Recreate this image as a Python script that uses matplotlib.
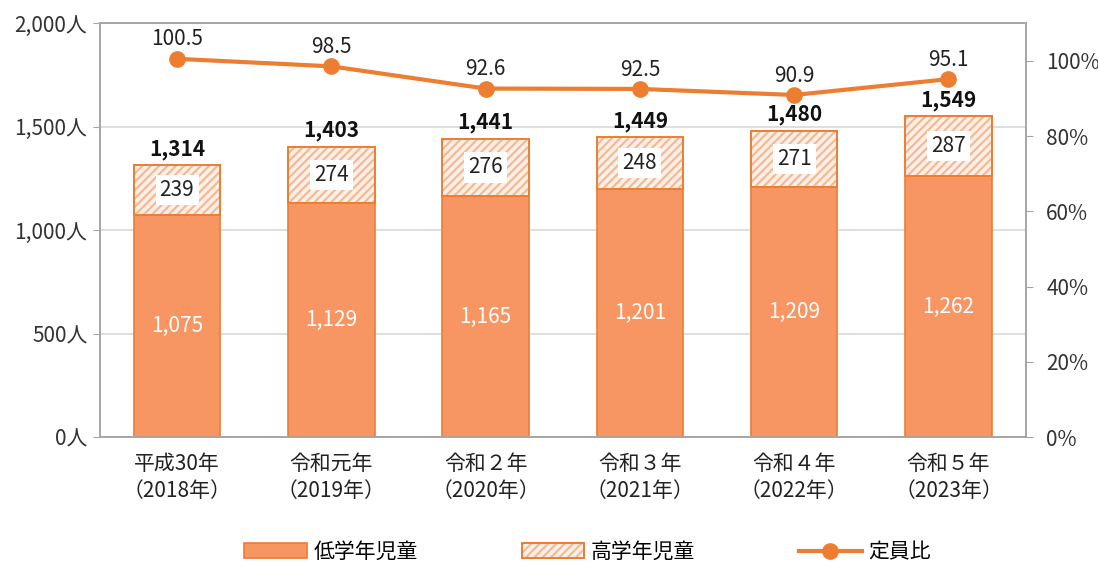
import matplotlib
matplotlib.use("Agg")
import matplotlib.pyplot as plt
from matplotlib.patches import Patch
import numpy as np

plt.rcParams['font.family'] = ['Noto Sans CJK JP', 'DejaVu Sans']
plt.rcParams['hatch.linewidth'] = 1.6

years = ['平成30年\n（2018年）', '令和元年\n（2019年）', '令和２年\n（2020年）',
         '令和３年\n（2021年）', '令和４年\n（2022年）', '令和５年\n（2023年）']
lower = [1075, 1129, 1165, 1201, 1209, 1262]
upper = [239, 274, 276, 248, 271, 287]
ratio = [100.5, 98.5, 92.6, 92.5, 90.9, 95.1]

orange = '#ED7D31'
fill = '#F79663'
hatch_col = '#F5BA95'
grey = '#A6A6A6'

fig = plt.figure(figsize=(10.98, 5.62), dpi=100)
ax = fig.add_axes([0.091, 0.222, 0.843, 0.737])
ax2 = ax.twinx()

x = np.arange(len(years))
w = 0.56
totals = [a + b for a, b in zip(lower, upper)]

b1 = ax.bar(x, lower, w, color=fill, edgecolor=orange, linewidth=1.2, zorder=3)
# hatch takes the edge colour, so hatch layer first, then outline on top
ax.bar(x, upper, w, bottom=lower, color='#FDF0E8', edgecolor=hatch_col, linewidth=0,
       hatch='////', zorder=3)
ax.bar(x, upper, w, bottom=lower, fill=False, edgecolor=orange, linewidth=1.4, zorder=3.5)
b2 = (Patch(facecolor='#FDF0E8', edgecolor=hatch_col, hatch='////', linewidth=0),
      Patch(fill=False, edgecolor=orange, linewidth=1.4))

for i in range(len(x)):
    ax.text(x[i], lower[i] / 2, f'{lower[i]:,}', ha='center', va='center',
            color='white', fontsize=15, zorder=5)
    ax.text(x[i], lower[i] + upper[i] / 2, f'{upper[i]}', ha='center', va='center',
            color='#222222', fontsize=15, zorder=5,
            bbox=dict(boxstyle='square,pad=0.2', fc='white', ec='none'))
    ax.annotate(f'{totals[i]:,}', (x[i], totals[i]), xytext=(0, 4),
                textcoords='offset points', ha='center', va='bottom',
                fontsize=15, fontweight='bold', color='#111111', zorder=5)

ax.set_ylim(0, 2000)
ax.set_xlim(-0.5, len(x) - 0.5)
ax.set_yticks([0, 500, 1000, 1500, 2000])
ax.set_yticklabels(['0人', '500人', '1,000人', '1,500人', '2,000人'], fontsize=15, color='#333333')
ax.set_xticks(x)
ax.set_xticklabels(years, fontsize=15, color='#222222', linespacing=1.35)
ax.tick_params(axis='x', length=0, pad=11)
ax.tick_params(axis='y', length=5, color=grey, pad=4)
ax.yaxis.grid(True, color='#D9D9D9', linewidth=1.2, zorder=0)
ax.set_axisbelow(True)

ln, = ax2.plot(x, ratio, color=orange, linewidth=3, marker='o', markersize=11,
               zorder=6)
for i in range(len(x)):
    ax2.annotate(f'{ratio[i]}', (x[i], ratio[i]), xytext=(0, 6),
                 textcoords='offset points', ha='center', va='bottom',
                 fontsize=15, color='#222222')
ax2.set_ylim(0, 110)
ax2.set_yticks([0, 20, 40, 60, 80, 100])
ax2.set_yticklabels(['0%', '20%', '40%', '60%', '80%', '100%'], fontsize=15, color='#333333')
ax2.tick_params(axis='y', length=5, color=grey, pad=10)

for a in (ax, ax2):
    for s in a.spines.values():
        s.set_color(grey)
        s.set_linewidth(1.2)

fig.legend([b1, b2, ln], ['低学年児童', '高学年児童', '定員比'], loc='lower center',
           bbox_to_anchor=(0.535, -0.035), ncol=3, frameon=False, fontsize=15,
           columnspacing=5.0, handlelength=3.0, handletextpad=0.3)

fig.savefig('out.png', dpi=100)
